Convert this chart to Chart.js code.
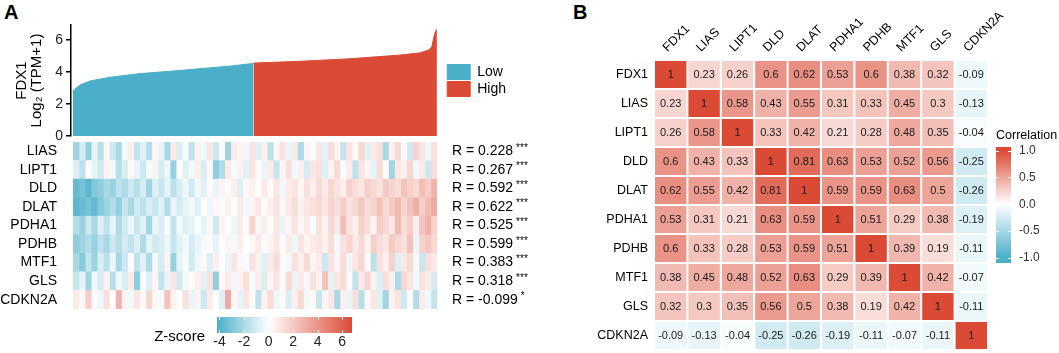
<!DOCTYPE html>
<html>
<head>
<meta charset="utf-8">
<script src="https://cdn.jsdelivr.net/npm/chart.js@4.4.1/dist/chart.umd.min.js"></script>
<style>
  html, body { margin: 0; padding: 0; background: #fff; }
  body { width: 1059px; height: 353px; position: relative; overflow: hidden; font-family: "Liberation Sans", Arial, sans-serif; }
  canvas { position: absolute; }
  .tag { position: absolute; font-weight: bold; font-size: 20px; line-height: 20px; color: #000; }
</style>
</head>
<body>
<div class="tag" style="left:4px;top:2px">A</div>
<div class="tag" style="left:573px;top:2px">B</div>
<canvas id="fdx1Chart" width="516" height="140" style="left:0;top:0"></canvas>
<canvas id="heatChart" width="540" height="171" style="left:0;top:138px"></canvas>
<canvas id="zbarChart" width="230" height="53" style="left:140px;top:300px"></canvas>
<canvas id="corrChart" width="499" height="353" style="left:560px;top:0"></canvas>
<canvas id="corrBarChart" width="74" height="135" style="left:985px;top:128px"></canvas>
<script>
// ---- panel A: sorted FDX1 expression (sample index, log2 TPM+1)
const lowIdx = [0.7, 4.7, 8, 18, 28, 38, 48, 68, 88, 108, 128, 158, 181.3];
const lowVal = [2.77, 3.04, 3.19, 3.44, 3.56, 3.67, 3.75, 3.9, 4.0, 4.1, 4.21, 4.37, 4.54];
const highIdx = [181.3, 228, 278, 328, 348, 356.3, 359.7, 361.3, 363, 364.7];
const highVal = [4.56, 4.67, 4.83, 5.06, 5.2, 5.37, 5.58, 6.1, 6.5, 6.67];
const fdx1Ticks = [0, 2, 4, 6];

// ---- panel A: heatmap rows (z-score, ordered by FDX1)
const heatGenes = ["LIAS", "LIPT1", "DLD", "DLAT", "PDHA1", "PDHB", "MTF1", "GLS", "CDKN2A"];
const rLabels = ["R = 0.228", "R = 0.267", "R = 0.592", "R = 0.622", "R = 0.525", "R = 0.599", "R = 0.383", "R = 0.318", "R = -0.099"];
const rStars = ["***", "***", "***", "***", "***", "***", "***", "***", "*"];

const zLIAS = [-2.2,-1.0,-2.5,-0.5,-1.6,0.4,-1.2,-2.0,-0.3,0.6,-1.4,-0.7,-1.8,0.3,-0.6,-2.1,0.8,-0.9,-0.2,-1.5,
  0.5,-0.4,0.9,-1.2,0.2,-2.3,0.7,0.4,-0.3,1.0,-0.8,0.6,-1.6,0.3,1.1,-0.5,0.8,-1.9,0.4,0.2,
  0.9,-0.6,1.3,0.5,-1.4,1.0,0.3,1.5,-0.7,0.8,1.2,-2.0,0.6,1.4,0.2,-1.1,1.6,0.9,-0.4,1.1];
const zLIPT1 = [-0.8,-1.5,0.2,-0.6,-1.1,0.5,-0.3,-1.7,-0.9,0.3,-0.5,-1.2,-0.2,0.4,-1.0,-0.4,-2.4,0.1,-0.7,-0.3,
  0.6,-0.9,0.3,-2.6,-1.8,0.8,-0.2,0.5,-0.7,1.0,0.2,-0.5,0.7,-1.3,0.4,1.2,-0.3,0.6,-1.0,0.9,
  1.1,-0.8,0.5,1.4,-0.2,0.7,-1.5,1.0,0.4,-0.6,1.3,0.2,-2.2,0.9,0.6,1.5,-0.4,0.8,-1.2,1.2];
const zDLD = [-3.6,-3.2,-3.8,-2.9,-2.6,-2.0,-2.4,-1.5,-1.9,-1.2,-1.7,-1.0,-2.2,-0.8,-1.3,-0.6,-1.6,-0.9,-0.4,-1.1,
  -0.3,-0.7,0.2,-0.5,0.4,-0.2,0.6,-0.8,0.3,0.5,-0.1,0.8,0.2,0.9,-0.4,0.7,1.0,0.3,1.1,0.6,
  1.3,0.8,1.5,1.0,0.6,1.7,1.2,0.9,1.8,1.4,1.1,2.0,1.6,1.3,2.2,1.7,1.4,2.4,1.9,2.8];
const zDLAT = [-3.8,-3.5,-3.2,-3.6,-2.8,-2.3,-1.8,-2.5,-1.4,-2.0,-1.1,-1.6,-0.9,-1.3,-0.7,-1.8,-0.5,-1.0,-0.6,-0.3,
  -0.8,0.1,-0.4,0.3,-0.2,0.5,0.0,0.7,-0.3,0.4,0.9,0.2,0.6,1.0,0.3,0.8,1.2,0.5,0.9,1.1,
  1.4,0.9,1.6,1.2,1.9,1.0,1.5,2.1,1.3,1.7,2.3,1.4,2.0,2.6,1.6,2.2,3.0,1.8,2.5,3.2];
const zPDHA1 = [-1.8,-2.4,-1.2,-2.0,-0.8,-1.5,-0.6,-1.9,-1.0,-0.4,-1.3,-0.7,-2.2,-0.5,-0.9,-0.2,-1.4,-0.3,-0.8,-0.6,
  -0.1,-0.6,0.3,-1.2,0.5,0.0,-0.4,0.7,0.2,1.6,-0.3,0.6,0.1,0.9,-0.5,0.4,1.0,0.3,0.8,-0.2,
  1.1,0.5,1.4,0.8,2.4,1.0,0.6,1.7,1.2,0.4,1.9,1.5,0.9,2.6,1.3,1.8,0.7,2.2,2.9,1.6];
const zPDHB = [-2.6,-2.2,-1.8,-2.4,-1.5,-2.0,-1.2,-1.7,-1.0,-1.4,-0.8,-1.9,-0.6,-1.1,-0.9,-0.4,-1.3,-0.7,-0.3,-1.0,
  -0.5,-0.2,0.2,-0.6,0.1,0.4,-0.3,0.6,0.0,0.3,0.8,-0.2,0.5,0.9,0.2,0.7,-0.4,1.0,0.4,0.8,
  1.0,0.6,1.3,-0.3,1.1,1.6,0.8,1.4,0.5,1.8,1.2,0.9,2.0,1.5,1.1,2.3,-0.5,1.7,2.1,1.4];
const zMTF1 = [-2.0,-2.8,-1.4,-2.3,-0.9,-1.6,-0.5,-2.1,-1.2,0.2,-1.5,-0.7,-1.9,-0.3,-1.0,0.4,-2.4,-0.6,-0.2,-1.1,
  -0.4,0.3,-0.8,0.6,0.1,-0.5,0.9,0.3,-0.2,1.0,0.5,-0.7,0.8,1.3,0.2,-0.3,1.1,0.6,1.4,0.4,
  0.7,-1.2,1.0,0.4,1.3,-0.4,0.9,1.5,0.2,-1.6,1.1,0.6,1.7,-0.8,0.9,1.4,0.3,-1.3,1.2,0.8];
const zGLS = [-1.3,-0.6,-2.2,-0.4,-1.0,0.5,-1.7,-0.3,-0.9,0.7,-2.6,-0.2,-0.8,0.4,-1.4,-0.5,0.9,-1.1,-0.3,0.2,
  0.6,-0.7,1.1,-2.5,0.3,0.8,-0.4,0.5,1.2,-0.2,0.7,-0.9,0.4,1.0,0.2,1.4,-0.5,0.8,0.3,1.1,
  0.5,2.2,-0.6,0.9,1.3,0.2,-1.5,0.8,1.6,0.4,-0.8,1.2,0.6,-1.9,1.5,0.9,-0.3,1.1,0.7,-1.0];
const zCDKN2A = [0.8,0.3,1.9,0.2,-0.4,1.2,0.1,2.8,0.4,-0.3,0.9,0.2,1.5,0.3,-0.2,2.2,0.5,0.1,1.1,-0.5,
  0.4,-1.2,0.7,0.1,-0.8,3.2,0.3,-0.6,0.9,0.2,-1.5,0.5,1.3,-0.4,0.2,-0.9,0.6,1.4,-0.3,0.3,
  -1.3,0.4,0.8,-2.0,0.6,-0.5,1.2,-1.7,0.3,0.9,-0.7,-2.2,0.5,1.0,-1.1,0.2,-1.8,0.7,-0.4,-1.4];

const zMin = -4.2, zMax = 6.8;
const zTicks = [-4, -2, 0, 2, 4, 6];

// ---- panel B: correlation matrix
const corrGenes = ["FDX1", "LIAS", "LIPT1", "DLD", "DLAT", "PDHA1", "PDHB", "MTF1", "GLS", "CDKN2A"];
const corrFDX1 = [1, 0.23, 0.26, 0.6, 0.62, 0.53, 0.6, 0.38, 0.32, -0.09];
const corrLIAS = [0.23, 1, 0.58, 0.43, 0.55, 0.31, 0.33, 0.45, 0.3, -0.13];
const corrLIPT1 = [0.26, 0.58, 1, 0.33, 0.42, 0.21, 0.28, 0.48, 0.35, -0.04];
const corrDLD = [0.6, 0.43, 0.33, 1, 0.81, 0.63, 0.53, 0.52, 0.56, -0.25];
const corrDLAT = [0.62, 0.55, 0.42, 0.81, 1, 0.59, 0.59, 0.63, 0.5, -0.26];
const corrPDHA1 = [0.53, 0.31, 0.21, 0.63, 0.59, 1, 0.51, 0.29, 0.38, -0.19];
const corrPDHB = [0.6, 0.33, 0.28, 0.53, 0.59, 0.51, 1, 0.39, 0.19, -0.11];
const corrMTF1 = [0.38, 0.45, 0.48, 0.52, 0.63, 0.29, 0.39, 1, 0.42, -0.07];
const corrGLS = [0.32, 0.3, 0.35, 0.56, 0.5, 0.38, 0.19, 0.42, 1, -0.11];
const corrCDKN2A = [-0.09, -0.13, -0.04, -0.25, -0.26, -0.19, -0.11, -0.07, -0.11, 1];
const corrMin = -1.1, corrMax = 1.07;
const corrTicks = [-1, -0.5, 0, 0.5, 1];

const BLUE = "#4BAFC9";
const RED = "#DB4A35";
const FONT = '"Liberation Sans", Arial, sans-serif';

Chart.defaults.font.family = FONT;
Chart.defaults.color = "#000";

// white -> colour mix
function hexToRgb(hex) {
  const n = parseInt(hex.slice(1), 16);
  return [(n >> 16) & 255, (n >> 8) & 255, n & 255];
}
function mixWhite(hex, t) {
  const c = hexToRgb(hex);
  t = Math.max(0, Math.min(1, t));
  const r = Math.round(255 + (c[0] - 255) * t);
  const g = Math.round(255 + (c[1] - 255) * t);
  const b = Math.round(255 + (c[2] - 255) * t);
  return `rgb(${r},${g},${b})`;
}
function zColor(v) {
  return v >= 0 ? mixWhite(RED, v / zMax) : mixWhite(BLUE, v / zMin);
}
function corrColor(v) {
  return v >= 0 ? mixWhite(RED, v) : mixWhite(BLUE, -v);
}

// fix axis size and drop the label half-height padding chart.js adds
function fixWidth(w) {
  return (s) => { s.width = w; s.paddingTop = 0; s.paddingBottom = 0; };
}
function fixHeight(h) {
  return (s) => { s.height = h; s.paddingLeft = 0; s.paddingRight = 0; };
}

// ---------------- FDX1 curve
new Chart(document.getElementById("fdx1Chart"), {
  type: "line",
  data: {
    datasets: [
      {
        label: "Low",
        data: lowIdx.map((x, i) => ({ x, y: lowVal[i] })),
        borderColor: BLUE,
        backgroundColor: BLUE,
        borderWidth: 1,
        fill: "origin",
        pointRadius: 0,
      },
      {
        label: "High",
        data: highIdx.map((x, i) => ({ x, y: highVal[i] })),
        borderColor: RED,
        backgroundColor: RED,
        borderWidth: 1,
        fill: "origin",
        pointRadius: 0,
      },
    ],
  },
  options: {
    responsive: false,
    animation: false,
    layout: { padding: { top: 25, bottom: 4 } },
    plugins: {
      tooltip: { enabled: false },
      legend: {
        position: "right",
        align: "center",
        labels: { boxWidth: 23, boxHeight: 15, padding: 2, color: "#000", font: { size: 14, lineHeight: 1 } },
      },
    },
    scales: {
      x: { type: "linear", display: false, min: -1, max: 373 },
      y: {
        min: 0,
        max: 6.94,
        afterBuildTicks: (s) => { s.ticks = fdx1Ticks.map((v) => ({ value: v })); },
        afterFit: fixWidth(71),
        grid: { drawOnChartArea: false, drawTicks: true, tickLength: 5, color: "#000", lineWidth: 1.5 },
        border: { display: true, color: "#000", width: 1.5 },
        ticks: { color: "#222", font: { size: 14 }, padding: 3 },
        title: {
          display: true,
          text: ["FDX1", "Log\u2082 (TPM+1)"],
          color: "#000",
          font: { size: 15, lineHeight: 1 },
          padding: { top: 14, bottom: 0 },
        },
      },
    },
  },
});

// ---------------- heatmap (stacked horizontal bars, one dataset per column)
const zRows = [zLIAS, zLIPT1, zDLD, zDLAT, zPDHA1, zPDHB, zMTF1, zGLS, zCDKN2A];
const nCols = zLIAS.length;
const heatDatasets = [];
for (let j = 0; j < nCols; j++) {
  heatDatasets.push({
    data: heatGenes.map(() => 1),
    backgroundColor: zRows.map((row) => zColor(row[j])),
    borderWidth: 0,
  });
}

const starPlugin = {
  id: "stars",
  afterDraw(chart) {
    const s = chart.scales.y2;
    const ctx = chart.ctx;
    ctx.save();
    ctx.fillStyle = "#000";
    ctx.textBaseline = "alphabetic";
    s.ticks.forEach((t, i) => {
      const y = s.getPixelForTick(i);
      ctx.font = `14px ${FONT}`;
      const w = ctx.measureText(rLabels[i]).width;
      ctx.font = `10px ${FONT}`;
      ctx.fillText(rStars[i], s.left + 15 + w + 3, y - 0.5);
    });
    ctx.restore();
  },
};

new Chart(document.getElementById("heatChart"), {
  type: "bar",
  data: { labels: heatGenes, datasets: heatDatasets },
  options: {
    indexAxis: "y",
    responsive: false,
    animation: false,
    layout: { padding: { top: 4 } },
    datasets: { bar: { barPercentage: 1, categoryPercentage: 1 } },
    plugins: { legend: { display: false }, tooltip: { enabled: false } },
    scales: {
      x: { display: false, stacked: true, min: 0, max: nCols },
      y: {
        stacked: true,
        grid: { display: false, drawTicks: false },
        border: { display: false },
        afterFit: fixWidth(73),
        ticks: { autoSkip: false, color: "#000", font: { size: 14 }, padding: 16 },
      },
      y2: {
        type: "category",
        labels: rLabels,
        position: "right",
        offset: true,
        grid: { display: false, drawTicks: false },
        border: { display: false },
        afterFit: fixWidth(103),
        ticks: { autoSkip: false, color: "#000", font: { size: 14 }, padding: 15 },
      },
    },
  },
  plugins: [starPlugin],
});

// ---------------- Z-score colour bar
const zTickMarks = {
  id: "zTickMarks",
  afterDatasetsDraw(chart) {
    const x = chart.scales.x;
    const { top, bottom } = chart.chartArea;
    const ctx = chart.ctx;
    ctx.save();
    ctx.strokeStyle = "#fff";
    ctx.lineWidth = 1;
    zTicks.forEach((v) => {
      const px = Math.round(x.getPixelForValue(v)) + 0.5;
      ctx.beginPath();
      ctx.moveTo(px, top); ctx.lineTo(px, top + 3);
      ctx.moveTo(px, bottom - 3); ctx.lineTo(px, bottom);
      ctx.stroke();
    });
    ctx.restore();
  },
};

new Chart(document.getElementById("zbarChart"), {
  type: "bar",
  data: {
    labels: ["Z-score"],
    datasets: [{
      data: [[zMin, zMax]],
      backgroundColor: (ctx) => {
        const chart = ctx.chart;
        if (!chart.chartArea || !chart.scales.x) return BLUE;
        const x = chart.scales.x;
        const x0 = x.getPixelForValue(zMin), x1 = x.getPixelForValue(zMax);
        const g = chart.ctx.createLinearGradient(x0, 0, x1, 0);
        for (let v = zMin; v <= zMax + 1e-9; v += 0.5) {
          g.addColorStop(Math.min(1, (v - zMin) / (zMax - zMin)), zColor(v));
        }
        return g;
      },
      borderWidth: 0,
      barPercentage: 1,
      categoryPercentage: 1,
    }],
  },
  options: {
    indexAxis: "y",
    responsive: false,
    animation: false,
    layout: { padding: { top: 17, right: 18 } },
    plugins: { legend: { display: false }, tooltip: { enabled: false } },
    scales: {
      x: {
        min: zMin,
        max: zMax,
        afterBuildTicks: (s) => { s.ticks = zTicks.map((v) => ({ value: v })); },
        afterFit: fixHeight(20),
        grid: { display: false, drawTicks: false },
        border: { display: false },
        ticks: { color: "#222", font: { size: 14 }, padding: 1 },
      },
      y: {
        afterFit: fixWidth(77),
        grid: { display: false, drawTicks: false },
        border: { display: false },
        ticks: { color: "#000", font: { size: 15 }, padding: 12, labelOffset: 12 },
      },
    },
  },
  plugins: [zTickMarks],
});

// ---------------- correlation matrix
const corrRows = [corrFDX1, corrLIAS, corrLIPT1, corrDLD, corrDLAT, corrPDHA1, corrPDHB, corrMTF1, corrGLS, corrCDKN2A];
const corrDatasets = corrGenes.map((g, j) => ({
  label: g,
  data: corrGenes.map(() => 1),
  backgroundColor: corrRows.map((row) => corrColor(row[j])),
  borderColor: "#fff",
  borderWidth: 1,
  borderSkipped: false,
  inflateAmount: 0,
}));

const cellTextPlugin = {
  id: "cellText",
  afterDatasetsDraw(chart) {
    const ctx = chart.ctx;
    ctx.save();
    ctx.font = `11px ${FONT}`;
    ctx.fillStyle = "#1a1a1a";
    ctx.textAlign = "center";
    ctx.textBaseline = "middle";
    chart.data.datasets.forEach((ds, j) => {
      chart.getDatasetMeta(j).data.forEach((bar, i) => {
        const p = bar.getCenterPoint();
        ctx.fillText(String(corrRows[i][j]), p.x, p.y);
      });
    });
    ctx.restore();
  },
};

new Chart(document.getElementById("corrChart"), {
  type: "bar",
  data: { labels: corrGenes, datasets: corrDatasets },
  options: {
    indexAxis: "y",
    responsive: false,
    animation: false,
    layout: { padding: { right: 71, bottom: 3 } },
    datasets: { bar: { barPercentage: 1, categoryPercentage: 1 } },
    plugins: { legend: { display: false }, tooltip: { enabled: false } },
    scales: {
      x: {
        position: "top",
        stacked: true,
        min: 0,
        max: corrGenes.length,
        afterBuildTicks: (s) => { s.ticks = corrGenes.map((g, i) => ({ value: i + 0.5 })); },
        afterFit: fixHeight(60),
        grid: { display: false, drawTicks: false },
        border: { display: false },
        ticks: {
          autoSkip: false,
          maxRotation: 45,
          minRotation: 45,
          color: "#000",
          font: { size: 12.5 },
          padding: 5,
          labelOffset: 5,
          callback: (v, i) => corrGenes[i],
        },
      },
      y: {
        stacked: true,
        grid: { display: false, drawTicks: false },
        border: { display: false },
        afterFit: fixWidth(94),
        ticks: { autoSkip: false, color: "#000", font: { size: 12.5 }, padding: 6 },
      },
    },
  },
  plugins: [cellTextPlugin],
});

// ---------------- correlation colour bar
const corrTickMarks = {
  id: "corrTickMarks",
  afterDatasetsDraw(chart) {
    const y = chart.scales.y;
    const { left, right } = chart.chartArea;
    const ctx = chart.ctx;
    ctx.save();
    ctx.strokeStyle = "#fff";
    ctx.lineWidth = 1;
    corrTicks.forEach((v) => {
      const py = Math.round(y.getPixelForValue(v)) + 0.5;
      ctx.beginPath();
      ctx.moveTo(left, py); ctx.lineTo(left + 3, py);
      ctx.moveTo(right - 3, py); ctx.lineTo(right, py);
      ctx.stroke();
    });
    ctx.restore();
  },
};

new Chart(document.getElementById("corrBarChart"), {
  type: "bar",
  data: {
    labels: ["Correlation"],
    datasets: [{
      data: [[corrMin, corrMax]],
      backgroundColor: (ctx) => {
        const chart = ctx.chart;
        if (!chart.chartArea || !chart.scales.y) return RED;
        const y = chart.scales.y;
        const y0 = y.getPixelForValue(corrMin), y1 = y.getPixelForValue(corrMax);
        const g = chart.ctx.createLinearGradient(0, y0, 0, y1);
        for (let v = corrMin; v <= corrMax + 1e-9; v += 0.1) {
          g.addColorStop(Math.min(1, (v - corrMin) / (corrMax - corrMin)), corrColor(v));
        }
        return g;
      },
      borderWidth: 0,
      barPercentage: 1,
      categoryPercentage: 1,
    }],
  },
  options: {
    responsive: false,
    animation: false,
    layout: { padding: { left: 11 } },
    plugins: {
      legend: { display: false },
      tooltip: { enabled: false },
      title: {
        display: true,
        text: "Correlation",
        align: "start",
        color: "#000",
        font: { size: 12.5, weight: "normal", lineHeight: 1.2 },
        padding: { top: 0, bottom: 4 },
      },
    },
    scales: {
      x: { display: false },
      y: {
        position: "right",
        min: corrMin,
        max: corrMax,
        afterBuildTicks: (s) => { s.ticks = corrTicks.map((v) => ({ value: v })); },
        afterFit: fixWidth(48),
        grid: { display: false, drawTicks: false },
        border: { display: false },
        ticks: { color: "#333", font: { size: 12 }, padding: 8, callback: (v) => v.toFixed(1) },
      },
    },
  },
  plugins: [corrTickMarks],
});
</script>
</body>
</html>
